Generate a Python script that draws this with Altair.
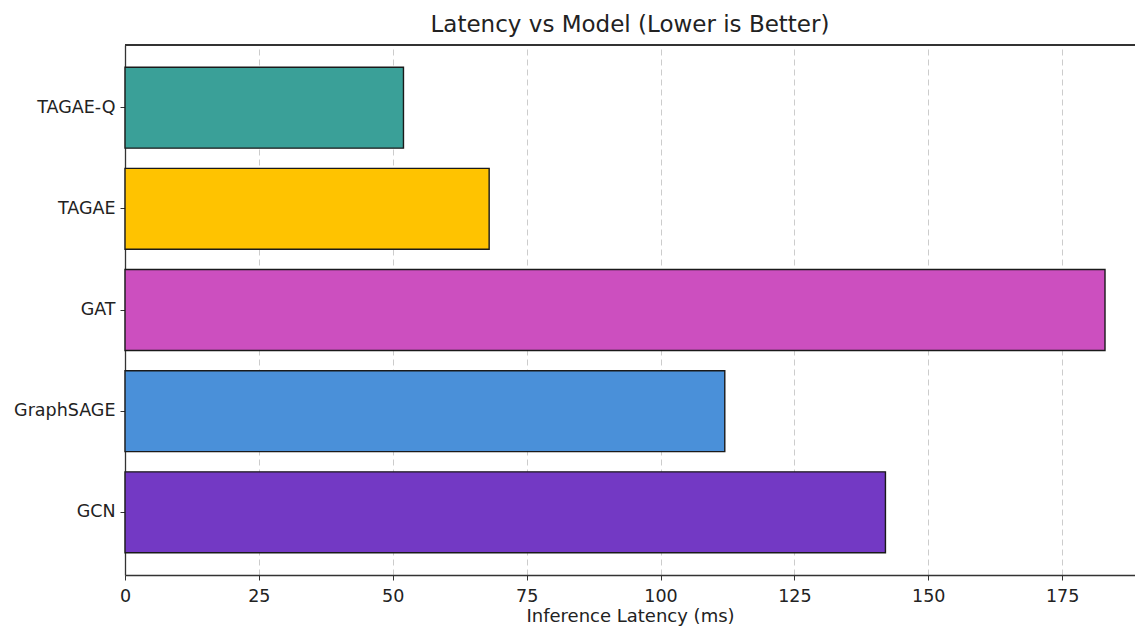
import altair as alt
import pandas as pd

models = ["TAGAE-Q", "TAGAE", "GAT", "GraphSAGE", "GCN"]
latency = [52, 68, 183, 112, 142]
colors = ["#3aa098", "#ffc300", "#cc4fbf", "#4a90d9", "#7339c4"]

df = pd.DataFrame({"Model": models, "Latency": latency})

W, H = 1010, 530

bars = alt.Chart(df).mark_bar(stroke="#1a1a1a", strokeWidth=1.4).encode(
    x=alt.X(
        "Latency:Q",
        scale=alt.Scale(domain=[0, 188.6], nice=False, zero=True),
        axis=alt.Axis(
            values=[0, 25, 50, 75, 100, 125, 150, 175],
            title="Inference Latency (ms)",
            titleFontSize=18, titleFontWeight="normal", titleColor="#222",
            titlePadding=3,
            labelFontSize=17.5, labelColor="#222", labelPadding=7, labelFlush=False,
            tickSize=5, tickColor="#333",
            domainColor="#333", domainWidth=1.3,
            grid=True, gridDash=[6, 4], gridColor="#cccccc", gridWidth=1,
        ),
    ),
    y=alt.Y(
        "Model:N",
        sort=models,
        scale=alt.Scale(paddingInner=0.2, paddingOuter=0.22),
        axis=alt.Axis(
            title=None,
            labelFontSize=17.5, labelColor="#222", labelPadding=5,
            tickSize=5, tickColor="#333",
            domainColor="#333", domainWidth=1.3,
            grid=False,
        ),
    ),
    color=alt.Color("Model:N", scale=alt.Scale(domain=models, range=colors), legend=None),
)

top_border = alt.Chart(df).mark_rule(color="#333", strokeWidth=1.3).encode(
    x=alt.value(0), x2=alt.value(W), y=alt.value(0)
)

chart = alt.layer(bars, top_border).properties(
    width=W,
    height=H,
    title=alt.TitleParams(
        "Latency vs Model (Lower is Better)",
        fontSize=23, fontWeight="normal", color="#222", offset=7, anchor="middle",
    ),
    padding={"left": 117, "top": 37, "right": 0, "bottom": 51},
    autosize=alt.AutoSizeParams(type="none"),
).configure(font="DejaVu Sans").configure_view(stroke=None)

chart.save("out.html", embed_options={"renderer": "svg", "actions": False})
